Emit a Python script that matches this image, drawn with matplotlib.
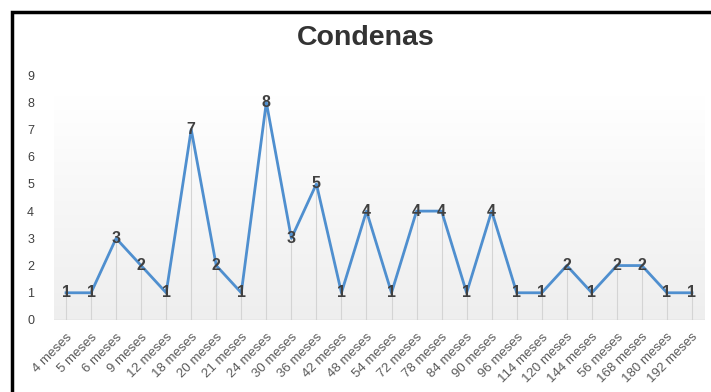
import matplotlib
matplotlib.use("Agg")
import matplotlib.pyplot as plt
import numpy as np
from matplotlib.patches import Rectangle

meses = ["4 meses", "5 meses", "6 meses", "9 meses", "12 meses", "18 meses",
         "20 meses", "21 meses", "24 meses", "30 meses", "36 meses", "42 meses",
         "48 meses", "54 meses", "72 meses", "78 meses", "84 meses", "90 meses",
         "96 meses", "114 meses", "120 meses", "144 meses", "56 meses",
         "168 meses", "180 meses", "192 meses"]
condenas = [1, 1, 3, 2, 1, 7, 2, 1, 8, 3, 5, 1, 4, 1, 4, 4, 1, 4, 1, 1, 2, 1, 2, 2, 1, 1]

plt.rcParams['font.family'] = ['Liberation Sans', 'DejaVu Sans']

fig = plt.figure(figsize=(7.11, 3.92), dpi=100)
ax = fig.add_axes([53.5 / 711, 1 - 320 / 392, 651 / 711, 245 / 392])

x = np.arange(len(meses))

# plot area gradient (light grey at bottom -> white at top)
grad = np.linspace(0, 1, 256).reshape(-1, 1)
ax.imshow(grad, extent=[-0.5, len(meses) - 0.5, 0, 8.2], aspect='auto',
          cmap=matplotlib.colors.LinearSegmentedColormap.from_list(
              'g', ['#eeeeee', '#ffffff']), origin='lower', zorder=0)

# drop lines
ax.vlines(x, 0, condenas, color='#d4d4d4', lw=0.8, zorder=1)
ax.axhline(0, color='#d0d0d0', lw=1, zorder=1)

ax.plot(x, condenas, color='#4f8fcf', lw=2, zorder=2)

for xi, v in zip(x, condenas):
    ax.text(xi, v, str(v), ha='center', va='center', fontsize=11.5,
            fontweight='bold', color='#404040', zorder=3)

ax.set_xlim(-0.5, len(meses) - 0.5)
ax.set_ylim(0, 9)
ax.set_yticks(range(10))
ax.set_xticks(x)
ax.set_xticklabels(meses, rotation=45, ha='right', va='top',
                   rotation_mode='anchor', fontsize=9.5, color='#5a5a5a')
ax.tick_params(axis='y', length=0, labelsize=9, labelcolor='#404040', pad=14)
ax.tick_params(axis='x', length=0, pad=8)
for s in ax.spines.values():
    s.set_visible(False)

fig.text(366 / 711, 1 - 38 / 392, "Condenas", ha='center', va='center',
         fontsize=20.5, fontweight='bold', color='#333333')

# outer frame
fig.patches.append(Rectangle((12 / 711, -0.1), 1.2, 1 - 12 / 392 + 0.1,
                             transform=fig.transFigure, fill=False,
                             ec='black', lw=2.5, zorder=10))

fig.savefig("out.png", dpi=100)
